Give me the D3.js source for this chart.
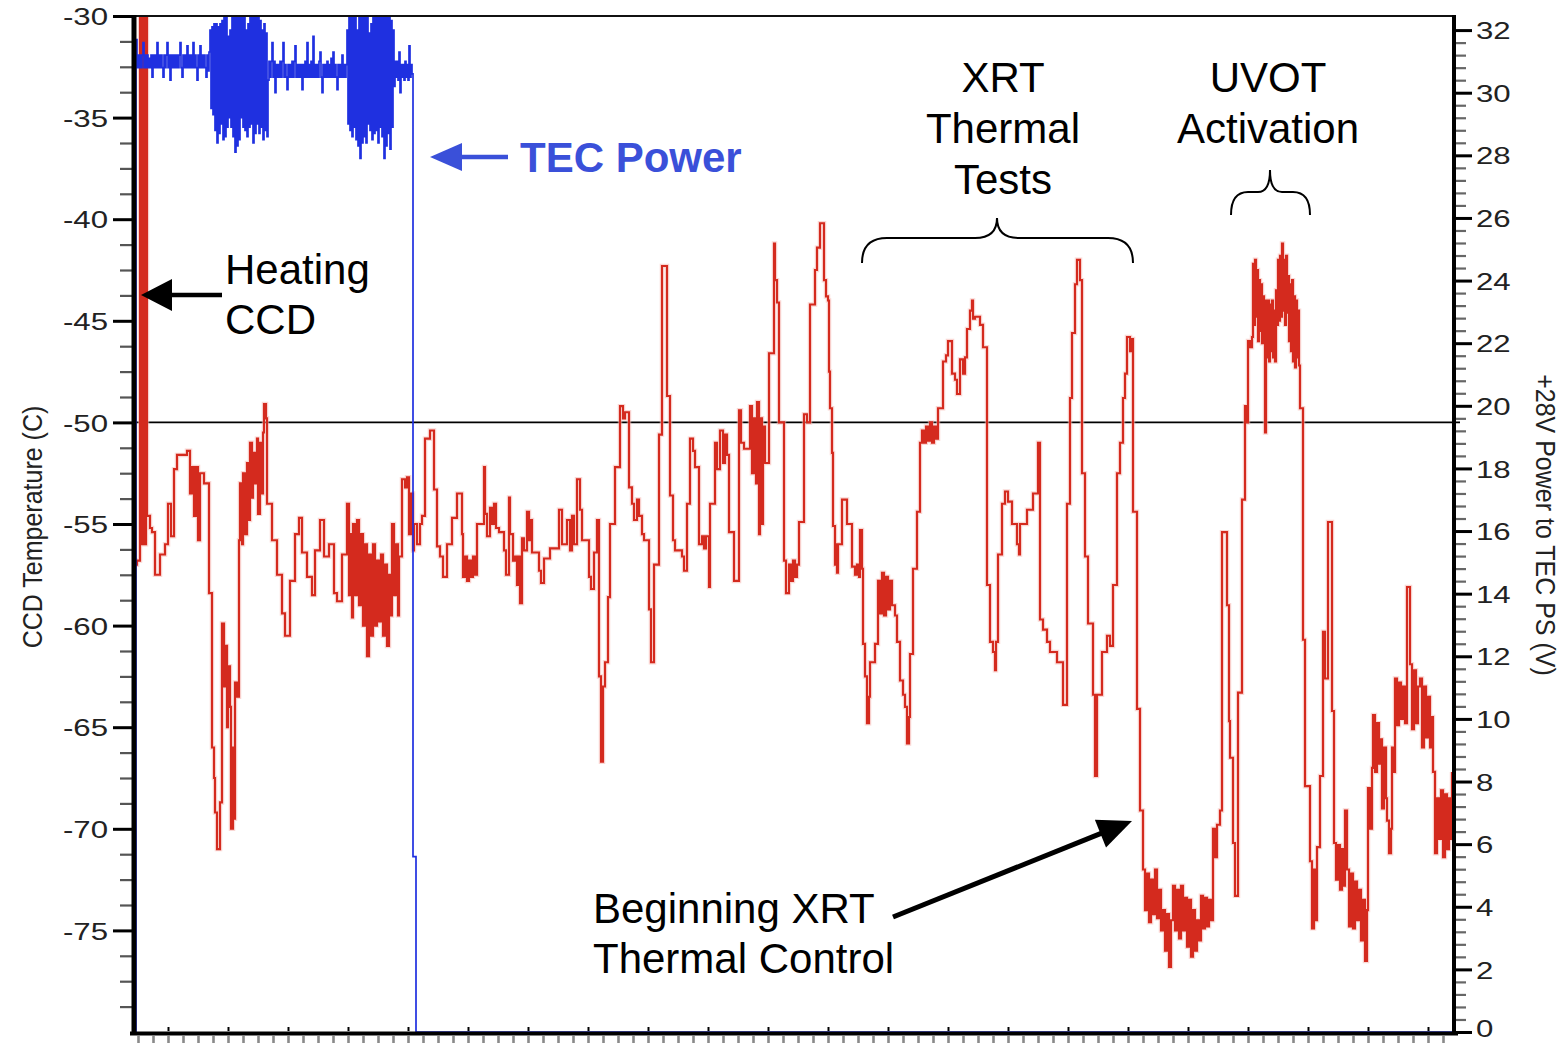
<!DOCTYPE html>
<html>
<head>
<meta charset="utf-8">
<script src="https://cdn.jsdelivr.net/npm/d3@7"></script>
<style>
  html, body { margin: 0; padding: 0; background: #fff; }
  svg { display: block; }
</style>
</head>
<body>
<svg id="chart" width="1568" height="1043"></svg>
<script>
// CCD temperature (deg C) against elapsed time (minutes); step-held telemetry samples
const ccdTemp = [
  [-35,-57.0],[-31,-56.8],[-28,-27],[-26.5,-56],[-25,-27],[-23.5,-56],[-22,-27],[-21,-54.6],
  [-18,-55.2],[-16,-55.4],[-13,-57.5],[-8,-56.5],[-3,-56.0],[0,-54.0],[3,-55.6],[6,-52.3],
  [9,-51.6],[19,-51.4],[22,-53.5],[24,-52.2],[26,-54.6],[28,-52.2],[30,-55.8],[32,-52.5],
  [36,-53.0],[41,-58.4],[44,-66.0],[46,-67.5],[47,-69.2],[49,-71.0],[52,-68.7],[54,-59.9],
  [56,-63.0],[57,-61.0],[59,-65.0],[60,-62.0],[62,-64.0],[63,-70.0],[65,-66.0],[66,-69.5],
  [67,-62.8],[69,-63.5],[71,-55.8],[72,-53.0],[74,-56.0],[75,-52.5],[77,-55.5],[79,-52.0],
  [81,-54.8],[82,-51.0],[84,-53.7],[85,-51.5],[87,-53.0],[89,-50.8],[90,-54.5],[92,-51.0],
  [93,-53.5],[95,-50.5],[96,-49.1],[98,-49.8],[99,-54.0],[104,-55.8],[109,-57.5],[114,-59.4],
  [117,-60.5],[122,-57.8],[127,-55.5],[131,-54.7],[134,-56.4],[139,-57.6],[144,-58.5],[147,-56.3],
  [152,-54.8],[156,-56.6],[161,-56.0],[166,-58.4],[169,-58.8],[174,-56.5],[179,-54.0],[181,-58.5],
  [182,-55.5],[184,-59.6],[185,-55.0],[187,-58.5],[189,-54.8],[191,-59.0],[193,-55.5],[195,-60.0],
  [197,-56.0],[199,-61.5],[201,-56.5],[203,-60.5],[205,-56.0],[207,-60.0],[209,-56.8],[211,-59.8],
  [213,-56.5],[215,-60.5],[217,-57.0],[219,-61.0],[221,-57.5],[223,-59.5],[224,-55.0],[226,-58.5],
  [228,-56.0],[230,-59.5],[231,-56.6],[234,-52.8],[237,-53.2],[239,-52.7],[241,-55.5],[243,-53.5],
  [245,-56.3],[246,-55.0],[249,-56.0],[252,-55.0],[254,-54.6],[257,-50.8],[262,-50.4],[266,-53.3],
  [269,-56.1],[272,-56.6],[275,-57.6],[279,-56.0],[284,-54.7],[289,-53.5],[294,-55.5],[295,-57.6],
  [297,-56.6],[299,-57.8],[301,-56.8],[303,-57.6],[305,-56.6],[307,-57.5],[309,-55.0],[316,-52.2],
  [317,-54.5],[319,-55.6],[322,-54.2],[324,-55.0],[326,-54.0],[328,-55.2],[331,-55.4],[336,-56.3],
  [338,-57.5],[341,-53.7],[342,-55.5],[345,-56.8],[347,-56.6],[349,-58.0],[351,-56.6],[352,-58.9],
  [354,-55.7],[356,-56.3],[359,-54.4],[361,-55.8],[363,-54.8],[364,-56.4],[371,-57.3],[373,-57.9],
  [376,-56.7],[382,-56.2],[391,-54.3],[394,-56.0],[399,-54.8],[402,-56.3],[404,-54.6],[406,-56.0],
  [409,-52.8],[412,-54.3],[414,-55.8],[421,-57.6],[423,-58.2],[426,-56.4],[429,-54.8],[431,-62.5],
  [433,-66.7],[435,-63.0],[437,-61.8],[440,-58.6],[442,-55.0],[447,-52.2],[452,-49.2],[455,-49.8],
  [457,-49.5],[461,-53.2],[464,-54.0],[466,-54.8],[469,-53.8],[471,-54.6],[474,-55.5],[476,-55.8],
  [481,-59.2],[483,-61.8],[486,-57.0],[491,-50.6],[494,-42.3],[499,-48.7],[502,-53.6],[505,-55.8],
  [507,-56.3],[514,-56.6],[516,-57.3],[519,-54.0],[522,-50.8],[525,-51.4],[527,-52.2],[531,-56.0],
  [534,-55.6],[536,-56.2],[538,-55.6],[541,-58.1],[542,-54.0],[547,-51.0],[549,-52.3],[552,-50.4],
  [555,-52.0],[557,-50.6],[559,-51.6],[561,-55.4],[566,-57.8],[571,-49.4],[573,-51.0],[576,-51.3],
  [582,-49.2],[584,-52.5],[586,-49.8],[588,-53.0],[589,-49.0],[591,-55.5],[592,-49.8],[594,-55.0],
  [595,-50.2],[597,-52.0],[601,-46.6],[606,-41.2],[607,-43.0],[609,-44.1],[611,-50.0],[616,-56.8],
  [618,-58.4],[621,-57.0],[623,-57.8],[625,-56.8],[627,-57.6],[629,-57.0],[631,-54.9],[636,-49.6],
  [639,-50.0],[642,-44.2],[647,-42.5],[649,-41.4],[652,-40.2],[656,-43.0],[658,-43.8],[660,-44.0],
  [661,-47.5],[662,-49.3],[664,-51.5],[665,-55.1],[667,-57.0],[668,-56.0],[669,-57.4],[670,-56.0],
  [674,-53.8],[679,-55.0],[684,-57.1],[687,-57.5],[689,-57.0],[691,-57.6],[692,-55.3],[694,-57.2],
  [695,-60.9],[697,-62.5],[699,-64.8],[701,-63.5],[702,-61.8],[707,-60.9],[710,-57.8],[712,-59.4],
  [714,-57.4],[716,-59.5],[718,-57.6],[720,-59.2],[722,-57.8],[724,-59.0],[727,-59.5],[729,-60.8],
  [732,-62.7],[735,-63.4],[737,-64.0],[739,-65.8],[741,-64.5],[742,-61.4],[745,-57.2],[749,-54.4],
  [752,-51.0],[754,-50.4],[756,-51.0],[758,-50.2],[760,-50.9],[762,-50.0],[764,-51.0],[766,-50.2],
  [768,-50.8],[770,-49.3],[775,-47.0],[778,-46.7],[780,-46.0],[784,-47.6],[787,-47.9],[789,-48.6],
  [792,-46.9],[795,-47.6],[797,-46.8],[799,-45.4],[802,-44.5],[804,-44.0],[805,-44.9],[807,-44.8],
  [812,-45.2],[815,-46.3],[819,-58.0],[822,-60.8],[825,-61.3],[827,-62.2],[828,-60.8],[830,-56.5],
  [834,-54.0],[837,-53.4],[840,-53.9],[844,-55.0],[849,-56.0],[851,-56.5],[852,-55.0],[859,-54.3],
  [865,-53.5],[870,-51.0],[872,-59.7],[875,-60.2],[879,-60.8],[882,-61.3],[889,-61.8],[895,-63.9],
  [899,-54.0],[902,-48.8],[904,-45.6],[907,-43.2],[909,-42.0],[912,-43.0],[914,-52.5],[917,-56.6],
  [920,-59.9],[925,-63.4],[927,-67.4],[929,-63.4],[934,-61.3],[939,-60.5],[942,-61.0],[945,-58.0],
  [949,-52.5],[952,-51.0],[955,-48.8],[957,-47.6],[959,-45.8],[962,-46.5],[963,-45.9],[965,-54.4],
  [969,-64.1],[972,-69.1],[975,-72.0],[977,-74.0],[979,-72.2],[981,-74.6],[983,-72.5],[985,-74.2],
  [987,-72.0],[989,-74.4],[991,-73.0],[993,-75.0],[995,-74.0],[997,-76.0],[999,-74.2],[1001,-76.8],
  [1003,-74.5],[1005,-72.8],[1007,-75.0],[1009,-73.0],[1011,-75.4],[1013,-72.8],[1015,-75.0],[1017,-73.4],
  [1019,-75.8],[1021,-73.5],[1023,-76.3],[1025,-74.0],[1027,-76.0],[1029,-74.5],[1031,-75.5],[1033,-73.3],
  [1035,-74.9],[1037,-73.4],[1039,-74.8],[1041,-73.5],[1043,-74.5],[1045,-70.0],[1047,-71.4],[1049,-69.8],
  [1052,-69.1],[1054,-55.4],[1059,-59.0],[1061,-64.7],[1062,-66.5],[1065,-70.7],[1067,-73.3],[1070,-63.3],
  [1074,-53.8],[1077,-49.2],[1079,-50.0],[1080,-46.0],[1082,-46.3],[1084,-45.8],[1085,-42.2],[1086,-45.2],
  [1087,-42.0],[1088,-44.8],[1089,-42.5],[1090,-46.0],[1091,-43.0],[1092,-45.5],[1093,-43.2],[1094,-46.1],
  [1095,-43.8],[1096,-45.0],[1097,-50.5],[1098,-44.0],[1099,-46.8],[1100,-44.0],[1101,-47.0],[1102,-44.2],
  [1103,-46.5],[1104,-44.0],[1105,-46.8],[1106,-44.5],[1107,-47.0],[1108,-43.5],[1109,-45.2],[1110,-42.0],
  [1111,-45.0],[1112,-41.8],[1113,-44.8],[1114,-41.2],[1115,-44.5],[1116,-42.0],[1117,-45.2],[1118,-41.8],
  [1119,-44.6],[1120,-42.8],[1121,-46.0],[1122,-43.2],[1123,-46.5],[1124,-43.0],[1125,-47.0],[1126,-43.8],
  [1127,-47.3],[1128,-44.0],[1129,-46.8],[1130,-44.5],[1131,-47.2],[1132,-49.3],[1135,-60.7],[1137,-67.9],
  [1142,-71.6],[1144,-74.9],[1146,-72.0],[1148,-74.5],[1149,-70.9],[1152,-67.4],[1155,-60.3],[1157,-62.6],
  [1160,-54.9],[1164,-64.2],[1166,-70.7],[1168,-72.5],[1170,-70.8],[1172,-73.0],[1174,-71.0],[1176,-72.8],
  [1177,-69.1],[1179,-72.0],[1181,-74.8],[1183,-72.2],[1185,-74.9],[1187,-72.6],[1189,-74.5],[1191,-73.0],
  [1193,-75.5],[1195,-73.5],[1197,-76.5],[1199,-74.0],[1200,-68.0],[1202,-70.0],[1204,-67.0],[1205,-64.4],
  [1207,-67.2],[1209,-64.8],[1211,-66.8],[1212,-65.6],[1214,-69.0],[1216,-66.0],[1218,-68.5],[1219,-69.6],
  [1221,-71.2],[1223,-70.0],[1224,-66.0],[1226,-67.2],[1227,-62.6],[1229,-64.9],[1231,-62.8],[1233,-64.6],
  [1235,-63.0],[1237,-64.8],[1239,-58.1],[1242,-61.9],[1244,-65.1],[1246,-62.2],[1248,-64.8],[1250,-63.0],
  [1252,-62.6],[1254,-66.0],[1256,-63.0],[1258,-65.5],[1260,-63.5],[1262,-66.0],[1264,-64.5],[1265,-67.2],
  [1267,-71.2],[1269,-68.5],[1271,-70.5],[1273,-68.1],[1275,-71.4],[1277,-68.3],[1279,-71.0],[1281,-68.5],
  [1283,-70.5],[1284,-67.2]
];

// +28 V power to the TEC supply (V), one sample per minute from t = -32 to t = 244
const tecStartTime = -32;
const tecSamples = [
  /* -32 */ 31.7, 30.8, 31.2, 30.8,
  /* -28 */ 31.2, 30.8, 31.2, 31.6, 30.8, 31.2, 30.8, 31.2, 30.8, 31.1,
  /* -18 */ 30.8, 31.2, 30.5, 31.2, 30.8, 31.2, 30.8, 31.6, 30.8, 31.2,
  /*  -8 */ 30.8, 31.2, 30.8, 30.5, 31.2, 30.8, 31.2, 31.6,
  /*   0 */ 30.8, 31.2, 30.4, 31.2, 30.8, 31.2, 30.8, 31.2, 30.8, 31.2,
  /*  10 */ 30.8, 31.2, 31.6, 30.8, 30.5, 31.2, 30.8, 31.2, 30.8, 31.5,
  /*  20 */ 30.8, 31.2, 30.8, 31.2, 30.8, 31.6, 30.8, 31.2, 30.8, 30.4,
  /*  30 */ 31.2, 30.8, 31.5, 30.8, 31.2, 30.8, 31.2, 30.8, 30.5, 31.2,
  /*  40 */ 30.7, 31.3, 32.0, 29.5, 32.1, 29.3, 32.2, 28.8, 32.2, 28.4,
  /*  50 */ 32.1, 28.7, 32.2, 29.0, 32.3, 28.5, 32.6, 28.6, 33.0, 28.9,
  /*  60 */ 31.8, 29.2, 32.0, 28.9, 33.0, 28.6, 33.0, 28.1, 33.0, 28.3,
  /*  70 */ 33.0, 28.5, 33.0, 29.2, 33.0, 28.9, 33.0, 28.8, 32.0, 28.6,
  /*  80 */ 32.2, 28.9, 33.0, 29.0, 33.0, 28.4, 33.0, 28.7, 33.0, 29.0,
  /*  90 */ 32.5, 28.7, 32.3, 28.9, 32.0, 28.5, 32.2, 28.8, 31.9, 28.6,
  /* 100 */ 30.4, 31.0, 30.5, 31.0, 31.6, 30.5, 31.0, 30.0, 30.9, 30.5,
  /* 110 */ 30.9, 30.5, 31.0, 30.5, 31.0, 31.6, 30.5, 30.9, 30.5, 30.1,
  /* 120 */ 30.9, 30.5, 30.9, 30.5, 31.0, 30.5, 31.0, 31.5, 30.5, 30.9,
  /* 130 */ 30.5, 30.9, 30.5, 30.9, 30.1, 30.9, 30.5, 31.0, 30.5, 31.6,
  /* 140 */ 30.5, 30.9, 30.5, 31.0, 30.5, 31.8, 30.5, 30.9, 30.5, 30.9,
  /* 150 */ 30.5, 31.0, 31.3, 30.5, 30.0, 30.9, 30.5, 30.9, 30.5, 31.0,
  /* 160 */ 30.5, 30.9, 30.5, 31.1, 30.5, 31.3, 30.5, 30.9, 30.5, 30.1,
  /* 170 */ 30.9, 30.5, 30.9, 30.5, 31.2, 30.5, 30.9, 30.5, 30.9, 32.0,
  /* 180 */ 29.0, 32.5, 28.8, 33.0, 28.6, 33.0, 28.9, 32.6, 28.5, 32.0,
  /* 190 */ 28.3, 33.0, 27.9, 33.0, 28.4, 33.0, 28.6, 33.0, 28.4, 32.5,
  /* 200 */ 29.0, 31.9, 28.8, 32.2, 28.5, 33.0, 28.7, 33.0, 28.8, 33.0,
  /* 210 */ 28.4, 33.0, 28.9, 33.0, 28.6, 33.0, 27.9, 33.0, 28.3, 32.8,
  /* 220 */ 28.7, 32.5, 28.2, 32.3, 28.9, 32.0, 30.2, 31.0, 30.5, 31.0,
  /* 230 */ 30.4, 31.3, 30.0, 30.9, 30.5, 30.9, 30.4, 31.0, 30.5, 30.9,
  /* 240 */ 30.4, 31.5, 30.5, 30.9, 30.6
];
// supply switched off: brief partial level, then zero to the end of the record
const tecShutdown = [[245, 5.6], [248, 0], [1284, 0]];
const tecPower = [[-36, 0]]
  .concat(tecSamples.map((v, i) => [tecStartTime + i, v]))
  .concat(tecShutdown);

// Axis tick values
const tempTicks = [-30, -35, -40, -45, -50, -55, -60, -65, -70, -75];
const voltTicks = [0, 2, 4, 6, 8, 10, 12, 14, 16, 18, 20, 22, 24, 26, 28, 30, 32];
const referenceTemp = -50;

const FONT = "'Liberation Sans', Arial, Helvetica, sans-serif";
const svg = d3.select("#chart");
const P = { left: 132, right: 1452, top: 16, bottom: 1032 };

const x = d3.scaleLinear().domain([-36, 1284]).range([P.left, P.right]);
const yT = d3.scaleLinear().domain([-80, -30]).range([P.bottom, P.top]);
const yV = d3.scaleLinear().domain([0, 32.45]).range([P.bottom, P.top]);

svg.append("rect").attr("width", 1568).attr("height", 1043).attr("fill", "#fff");

svg.append("defs").append("clipPath").attr("id", "plotClip")
  .append("rect")
  .attr("x", P.left).attr("y", P.top)
  .attr("width", P.right - P.left).attr("height", P.bottom - P.top);

// -50 C reference line
svg.append("line")
  .attr("x1", P.left).attr("x2", P.right + 8)
  .attr("y1", yT(referenceTemp)).attr("y2", yT(referenceTemp))
  .attr("stroke", "#000").attr("stroke-width", 1.6);

const plotG = svg.append("g").attr("clip-path", "url(#plotClip)");

const tempLine = d3.line()
  .x(d => x(d[0])).y(d => yT(d[1]))
  .curve(d3.curveStepAfter);
const voltLine = d3.line()
  .x(d => x(d[0])).y(d => yV(d[1]))
  .curve(d3.curveStepAfter);

// soft halo under the temperature trace, then the trace itself
plotG.append("path").datum(ccdTemp)
  .attr("d", tempLine).attr("fill", "none")
  .attr("stroke", "#f6b7b0").attr("stroke-width", 4.5).attr("stroke-opacity", 0.55);
plotG.append("path").datum(ccdTemp)
  .attr("d", tempLine).attr("fill", "none")
  .attr("stroke", "#d42a1e").attr("stroke-width", 2.1);

plotG.append("path").datum(tecPower)
  .attr("d", voltLine).attr("fill", "none")
  .attr("stroke", "#1f30e0").attr("stroke-width", 1.7);

// ---- Axes ----
const tickText = (sel, dx, anchor, sx) => {
  sel.selectAll("text")
    .attr("x", 0).attr("dy", d => (d === 0 ? "0.18em" : "0.36em"))
    .attr("text-anchor", anchor)
    .attr("transform", `translate(${dx},0) scale(${sx},1)`)
    .style("font-family", FONT).style("font-size", "24px").style("fill", "#222");
};

// left: temperature
const minorTemps = d3.range(-80, -30, 1.25).filter(v => Math.abs(v % 5) > 0.01);
svg.append("g").attr("transform", `translate(${P.left},0)`)
  .call(d3.axisLeft(yT).tickValues(minorTemps).tickSize(12).tickFormat(""))
  .call(g => g.select(".domain").remove())
  .call(g => g.selectAll("line").attr("stroke", "#555").attr("stroke-width", 2.2));
svg.append("g").attr("transform", `translate(${P.left},0)`)
  .call(d3.axisLeft(yT).tickValues(tempTicks).tickSize(19).tickFormat(d => String(d)))
  .call(g => g.select(".domain").remove())
  .call(g => g.selectAll("line").attr("stroke", "#000").attr("stroke-width", 3))
  .call(g => tickText(g, -24, "end", 1.3));

// right: supply voltage
const minorVolts = d3.range(0, 32.01, 0.4).filter(v => Math.abs(v / 2 - Math.round(v / 2)) > 0.01);
svg.append("g").attr("transform", `translate(${P.right + 4},0)`)
  .call(d3.axisRight(yV).tickValues(minorVolts).tickSize(10).tickFormat(""))
  .call(g => g.select(".domain").remove())
  .call(g => g.selectAll("line").attr("stroke", "#666").attr("stroke-width", 2.2));
svg.append("g").attr("transform", `translate(${P.right + 4},0)`)
  .call(d3.axisRight(yV).tickValues(voltTicks).tickSize(16).tickFormat(d => String(d)))
  .call(g => g.select(".domain").remove())
  .call(g => g.selectAll("line").attr("stroke", "#000").attr("stroke-width", 3))
  .call(g => tickText(g, 20, "start", 1.3));

// bottom: time
svg.append("g").attr("transform", `translate(0,${P.bottom + 4})`)
  .call(d3.axisBottom(x).tickValues(d3.range(-30, 1284, 15)).tickSize(7).tickFormat(""))
  .call(g => g.select(".domain").remove())
  .call(g => g.selectAll("line").attr("stroke", "#8a8a8a").attr("stroke-width", 2.6));
svg.append("g").attr("transform", `translate(0,${P.bottom - 1})`)
  .call(d3.axisTop(x).tickValues(d3.range(0, 1284, 60)).tickSize(4).tickFormat(""))
  .call(g => g.select(".domain").remove())
  .call(g => g.selectAll("line").attr("stroke", "#000").attr("stroke-width", 2));

// frame lines
svg.append("line").attr("x1", P.left).attr("x2", P.right + 2).attr("y1", P.top).attr("y2", P.top)
  .attr("stroke", "#111").attr("stroke-width", 2);
svg.append("line").attr("x1", P.left + 2).attr("x2", P.left + 2).attr("y1", P.top - 1).attr("y2", P.bottom + 3)
  .attr("stroke", "#000").attr("stroke-width", 5);
svg.append("line").attr("x1", P.right + 2).attr("x2", P.right + 2).attr("y1", P.top - 1).attr("y2", P.bottom + 3)
  .attr("stroke", "#000").attr("stroke-width", 4);
svg.append("line").attr("x1", P.left - 2).attr("x2", P.right + 6).attr("y1", P.bottom + 1.5).attr("y2", P.bottom + 1.5)
  .attr("stroke", "#000").attr("stroke-width", 4);

// axis titles
svg.append("text")
  .attr("transform", "translate(33,527) rotate(-90) scale(1,1.1)")
  .attr("text-anchor", "middle").attr("dominant-baseline", "central")
  .style("font-family", FONT).style("font-size", "25px").style("fill", "#222")
  .text("CCD Temperature (C)");
svg.append("text")
  .attr("transform", "translate(1545,525) rotate(90) scale(1,1.1)")
  .attr("text-anchor", "middle").attr("dominant-baseline", "central")
  .style("font-family", FONT).style("font-size", "25px").style("fill", "#222")
  .text("+28V Power to TEC PS (V)");

// ---- Annotations ----
function arrow(x1, y1, x2, y2, color, width, headLen, headHalf) {
  const dx = x2 - x1, dy = y2 - y1, len = Math.hypot(dx, dy);
  const ux = dx / len, uy = dy / len;
  const bx = x2 - ux * headLen, by = y2 - uy * headLen;
  svg.append("line").attr("x1", x1).attr("y1", y1).attr("x2", bx + ux * 2).attr("y2", by + uy * 2)
    .attr("stroke", color).attr("stroke-width", width);
  svg.append("path")
    .attr("d", `M${x2},${y2} L${bx - uy * headHalf},${by + ux * headHalf} L${bx + uy * headHalf},${by - ux * headHalf} Z`)
    .attr("fill", color);
}

const note = (tx, ty, str, anchor = "start", opts = {}) =>
  svg.append("text").attr("x", tx).attr("y", ty).attr("text-anchor", anchor)
    .style("font-family", FONT).style("font-size", (opts.size || 42) + "px")
    .style("font-weight", opts.weight || "normal").style("fill", opts.fill || "#000")
    .text(str);

note(225, 284, "Heating");
note(225, 334, "CCD");
arrow(222, 295, 141, 295, "#000", 4.5, 31, 16);

note(520, 172, "TEC Power", "start", { weight: "bold", fill: "#3a50d9" });
arrow(508, 157, 430, 157, "#3a50d9", 4.5, 32, 14);

note(1003, 92, "XRT", "middle");
note(1003, 143, "Thermal", "middle");
note(1003, 194, "Tests", "middle");
svg.append("path")
  .attr("d", "M862,263 Q862,238 887,238 L975,238 Q997,238 997,218 Q997,238 1019,238 L1108,238 Q1133,238 1133,263")
  .attr("fill", "none").attr("stroke", "#000").attr("stroke-width", 2);

note(1268, 92, "UVOT", "middle");
note(1268, 143, "Activation", "middle");
svg.append("path")
  .attr("d", "M1231,215 Q1231,192 1248,192 L1258,192 Q1270,192 1270,170 Q1270,192 1282,192 L1293,192 Q1310,192 1310,215")
  .attr("fill", "none").attr("stroke", "#000").attr("stroke-width", 2);

note(593, 923, "Beginning XRT");
note(593, 973, "Thermal Control");
arrow(893, 917, 1132, 821, "#000", 5, 34, 15);
</script>
</body>
</html>
